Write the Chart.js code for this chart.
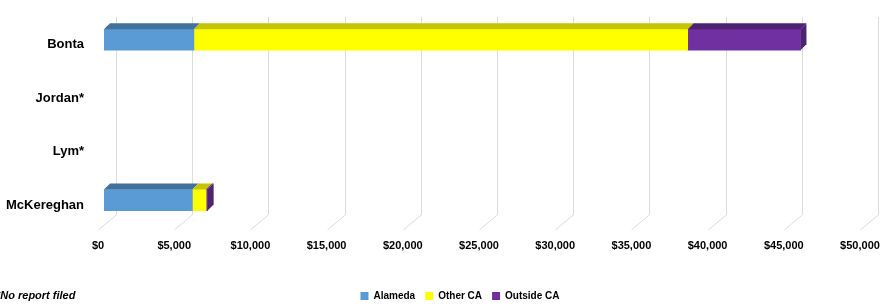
<!DOCTYPE html>
<html>
<head>
<meta charset="utf-8">
<script src="https://cdn.jsdelivr.net/npm/chart.js@4"></script>
<style>
  html, body { margin: 0; padding: 0; background: #fff; }
  #wrap { width: 883px; height: 308px; position: relative; }
</style>
</head>
<body>
<div id="wrap"><canvas id="chart"></canvas></div>
<script>
// data (null = no report filed)
const candidates = ['Bonta', 'Jordan*', 'Lym*', 'McKereghan'];
const alameda = [5900, null, null, 5800];
const otherCA = [32400, null, null, 900];
const outsideCA = [7400, null, null, 100];
const xMax = 50000;
const xStep = 5000;
const footnote = '*No report filed';

const fontFam = '"Liberation Sans", Arial, sans-serif';

// front / top-side colours of the fake 3D bars
const faces = [
    { front: '#5b9bd5', top: '#41719c' },
    { front: '#ffff00', top: '#c4c400' },
    { front: '#7030a0', top: '#4e2272' }
];

// draws the box-chart look: back wall lines with floor, plus bar tops/sides
const depth3d = {
    id: 'depth3d',
    afterLayout(chart) {
        // legend in the original is centred a bit right of the canvas middle
        chart.legend.left += 24;
        chart.legend.right += 24;
    },
    beforeDatasetsDraw(chart) {
        const { ctx, chartArea } = chart;
        const xs = chart.scales.x;
        ctx.save();
        ctx.strokeStyle = '#dcdcdc';
        ctx.lineWidth = 1;
        xs.ticks.forEach(t => {
            const px = Math.round(xs.getPixelForValue(t.value)) + 0.5;
            ctx.beginPath();
            ctx.moveTo(px + 12, chartArea.top + 4);
            ctx.lineTo(px + 12, chartArea.bottom - 12);
            ctx.lineTo(px - 6, chartArea.bottom + 3);
            ctx.stroke();
        });
        ctx.restore();
    },
    afterDatasetsDraw(chart) {
        const { ctx } = chart;
        const dx = 6, dy = 6;
        const n = chart.data.labels.length;
        ctx.save();
        for (let i = 0; i < n; i++) {
            let last = -1;
            chart.data.datasets.forEach((ds, d) => {
                if (ds.data[i] > 0) last = d;
            });
            chart.data.datasets.forEach((ds, d) => {
                if (!(ds.data[i] > 0)) return;
                const bar = chart.getDatasetMeta(d).data[i];
                const x0 = Math.min(bar.base, bar.x);
                const x1 = Math.max(bar.base, bar.x);
                const top = bar.y - bar.height / 2;
                const bot = bar.y + bar.height / 2;
                ctx.fillStyle = faces[d].top;
                ctx.beginPath();
                ctx.moveTo(x0, top);
                ctx.lineTo(x0 + dx, top - dy);
                ctx.lineTo(x1 + dx, top - dy);
                ctx.lineTo(x1, top);
                ctx.closePath();
                ctx.fill();
                if (d === last) {
                    ctx.beginPath();
                    ctx.moveTo(x1, top);
                    ctx.lineTo(x1 + dx, top - dy);
                    ctx.lineTo(x1 + dx, bot - dy);
                    ctx.lineTo(x1, bot);
                    ctx.closePath();
                    ctx.fill();
                }
            });
        }
        ctx.restore();
    },
    afterDraw(chart) {
        const { ctx } = chart;
        ctx.save();
        ctx.font = 'italic bold 11px ' + fontFam;
        ctx.fillStyle = '#000';
        ctx.textBaseline = 'middle';
        ctx.fillText(footnote, -4, 296);
        ctx.restore();
    }
};

const names = ['Alameda', 'Other CA', 'Outside CA'];
const series = [alameda, otherCA, outsideCA];

new Chart(document.getElementById('chart'), {
    type: 'bar',
    data: {
        labels: candidates,
        datasets: series.map((vals, k) => ({
            label: names[k],
            data: vals,
            backgroundColor: faces[k].front,
            borderWidth: 0,
            barThickness: 21
        }))
    },
    options: {
        indexAxis: 'y',
        responsive: true,
        maintainAspectRatio: false,
        animation: false,
        layout: { padding: { top: 13, left: 6, right: 17, bottom: -3 } },
        scales: {
            x: {
                stacked: true,
                min: 0,
                max: xMax,
                grid: { display: false, drawTicks: false },
                border: { display: false },
                ticks: {
                    stepSize: xStep,
                    padding: 13,
                    labelOffset: -6,
                    color: '#000',
                    font: { family: fontFam, size: 11, weight: 'bold' },
                    callback: v => '$' + v.toLocaleString('en-US')
                },
                title: { display: true, text: '', font: { size: 10 }, padding: { top: 0, bottom: 3 } },
                afterFit: s => { s.paddingLeft = 0; s.paddingRight = 0; }
            },
            y: {
                stacked: true,
                grid: { display: false, drawTicks: false },
                border: { display: false },
                ticks: {
                    padding: 20,
                    labelOffset: 5,
                    color: '#000',
                    font: { family: fontFam, size: 13, weight: 'bold' }
                },
                afterFit: s => { s.width = 98; s.paddingTop = 0; s.paddingBottom = 0; }
            }
        },
        plugins: {
            legend: {
                position: 'bottom',
                labels: {
                    boxWidth: 8,
                    boxHeight: 8,
                    padding: 10,
                    color: '#000',
                    font: { family: fontFam, size: 10, weight: 'bold' }
                }
            },
            tooltip: { enabled: false }
        }
    },
    plugins: [depth3d]
});
</script>
</body>
</html>
